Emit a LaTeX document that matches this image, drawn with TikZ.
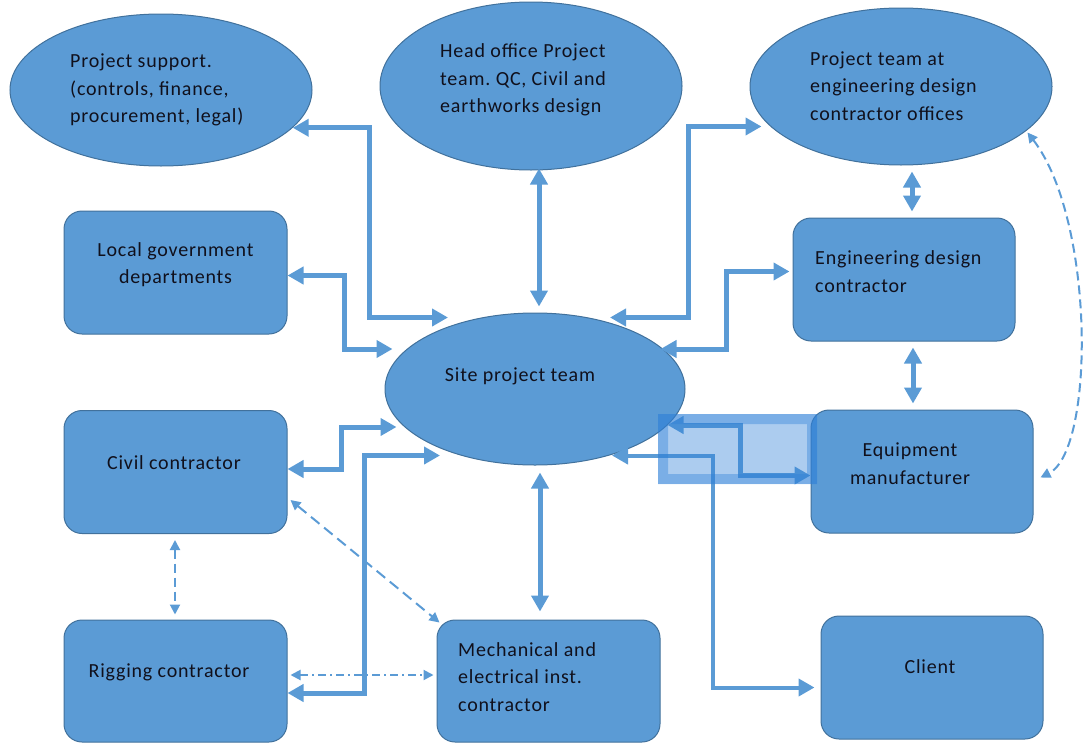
\documentclass[tikz,border=0pt]{standalone}
\usepackage{fontspec}
\setmainfont{Carlito}[LetterSpace=4]
\usetikzlibrary{shapes.geometric,arrows.meta}

\definecolor{shapefill}{HTML}{5B9BD5}
\definecolor{shapeline}{HTML}{41719C}
\definecolor{linkcol}{HTML}{5B9BD5}
\definecolor{inkcol}{HTML}{10101C}
\definecolor{hlcol}{HTML}{2F80D8}

\begin{document}
\begin{tikzpicture}[x=1pt,y=-1pt,
  oval/.style={ellipse, draw=shapeline, fill=shapefill, line width=1pt, inner sep=0pt},
  box/.style={rectangle, rounded corners=18pt, draw=shapeline, fill=shapefill,
    line width=1pt, inner sep=0pt, minimum width=223pt, minimum height=123pt},
  txt/.style={inner sep=0pt, text=inkcol, font=\fontsize{20}{27.5}\selectfont},
  link/.style={draw=linkcol, line width=5pt,
    {Triangle[length=16pt,width=17pt]}-{Triangle[length=16pt,width=17pt]}},
  thinlink/.style={link, line width=4pt},
  dashlink/.style={draw=linkcol, line width=2pt, dash pattern=on 11pt off 6pt,
    {Triangle[length=10pt,width=10pt]}-{Triangle[length=10pt,width=10pt]}},
  dotlink/.style={dashlink, dash pattern=on 8pt off 4pt on 2pt off 4pt},
]
\useasboundingbox (0,0) rectangle (1083,744);

% ---- ellipses
\node[oval, minimum width=302pt, minimum height=152pt] (ps)   at (161,90) {};
\node[oval, minimum width=302pt, minimum height=168pt] (ho)   at (531,86) {};
\node[oval, minimum width=302pt, minimum height=157pt] (pt)   at (901,86.5) {};
\node[oval, minimum width=300pt, minimum height=152pt] (site) at (535,389) {};

% ---- rounded boxes
\node[box] (lg)   at (175.5,272.5) {};
\node[box, minimum width=222pt] (ed) at (904,279.5) {};
\node[box] (civ)  at (175.5,472) {};
\node[box, minimum width=222pt] (eq) at (922,471.5) {};
\node[box, minimum height=122pt] (rig)  at (175.5,681) {};
\node[box, minimum height=122pt] (mech) at (548.5,681) {};
\node[box, minimum width=222pt] (cl) at (932,677.5) {};

% ---- labels
\node[txt, anchor=west, align=left] (ps-t) at (70,90)
  {Project support.\\(controls, finance,\\procurement, legal)};
\node[txt, anchor=west, align=left] (ho-t) at (440,80)
  {Head office Project\\team.\ QC, Civil\ and\\earthworks design};
\node[txt, anchor=west, align=left] (pt-t) at (810,86)
  {Project team at\\engineering design\\contractor offices};
\node[txt, align=center] (lg-t) at ([yshift=8pt]lg.center)
  {Local government\\departments};
\node[txt, anchor=west, align=left] (ed-t) at (815,271.5)
  {Engineering design\\contractor};
\node[txt] (site-t) at (520,376) {Site project team};
\node[txt] (civ-t) at (174,463) {Civil contractor};
\node[txt, align=center] (eq-t) at (910,463.5) {Equipment\\manufacturer};
\node[txt] (rig-t) at (169,672) {Rigging contractor};
\node[txt, anchor=west, align=left] (mech-t) at (458,677)
  {Mechanical and\\electrical inst.\\contractor};
\node[txt] (cl-t) at (930,667) {Client};

% ---- solid two-way links to the site team
\draw[link] (ps.-16) -- ++(77,0) |- ([xshift=-87pt,yshift=-5pt]site.north);
\draw[link] ([yshift=-3pt]lg.east) -- ++(57,0) |- ([xshift=8pt,yshift=40pt]site.west);
\draw[link] ([xshift=8pt,yshift=2pt]ho.south) -- ([xshift=4pt,yshift=6pt]site.north);
\draw[link] ([xshift=75pt,yshift=-5pt]site.north) -- ++(78,0) |- ([xshift=12pt,yshift=-40pt]pt.west);
\draw[link] ([xshift=-25pt,yshift=40pt]site.east) -- ++(66,0) |- ([xshift=-3pt,yshift=8pt]ed.west);
\draw[link] ([xshift=-18pt,yshift=-36pt]site.east) -- ++(73,0) |- ([yshift=-4pt]eq.west);
\draw[thinlink] ([xshift=77pt,yshift=10pt]site.south) -- ++(101,0) |- ([xshift=-6pt,yshift=-10pt]cl.west);
\draw[link] ([yshift=3pt]civ.east) -- ++(54,0) |- ([xshift=12pt,yshift=-38pt]site.west);
\draw[link] ([yshift=-12pt]rig.east) -- ++(77,0) |- ([xshift=-95pt,yshift=10pt]site.south);
\draw[link] ([xshift=5pt,yshift=-7pt]site.south) -- ([xshift=-8.5pt,yshift=8pt]mech.north);

% ---- links along the design chain
\draw[link] ([xshift=11pt,yshift=-6pt]pt.south) -- ([xshift=8pt,yshift=6pt]ed.north);
\draw[link] ([xshift=9pt,yshift=-6pt]ed.south) -- ([xshift=-9pt,yshift=6pt]eq.north);

% ---- informal links
\draw[dashlink] ([xshift=3pt,yshift=-28pt]civ.east) -- ([xshift=3pt,yshift=-3pt]mech.north west);
\draw[dashlink, dash pattern=on 9pt off 5pt] ([xshift=-0.5pt,yshift=-6pt]civ.south) -- ([xshift=-0.5pt,yshift=5pt]rig.north);
\draw[dotlink] ([xshift=3pt,yshift=6pt]rig.east) -- ([xshift=-3pt,yshift=6pt]mech.west);
\draw[dashlink, dash pattern=on 9pt off 5pt] ([xshift=-25pt,yshift=-46pt]pt.east)
  .. controls (1095,220) and (1095,450) .. ([xshift=7pt,yshift=-6pt]eq.east);

% ---- selection highlight over the equipment link
\fill[hlcol, opacity=0.4] (658,414) rectangle (817,484);
\fill[hlcol, opacity=0.4, even odd rule] (658,414) rectangle (817,484) (668,424) rectangle (807,474);
\end{tikzpicture}
\end{document}
